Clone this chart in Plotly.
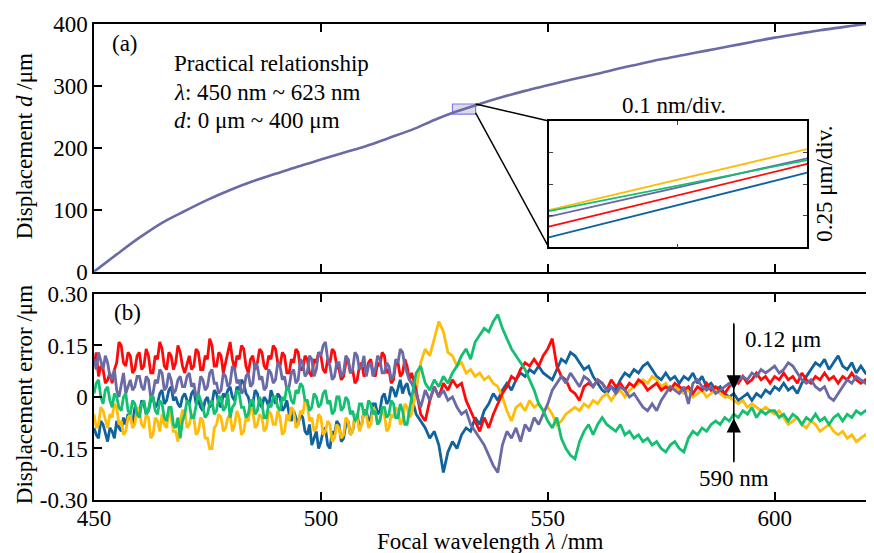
import plotly.graph_objects as go

# ---------------- data ----------------
# (a) practical relationship curve
curve_lambda = [450, 455, 460, 465, 470, 475, 480, 485, 490, 495, 500, 505, 510, 515,
                520, 525, 530, 535, 540, 545, 550, 555, 560, 565, 570, 575, 580, 585,
                590, 595, 600, 605, 610, 615, 620, 621.9]
curve_d = [0, 28, 55, 79, 98, 116, 132, 146, 158, 170, 181, 192, 203, 216,
           229, 245, 259, 271, 282, 292, 301, 310, 318, 327, 335, 343, 350, 357,
           364, 371, 378, 384, 390, 395, 400, 402]

# (b) displacement error: every 0.5 nm from 450 to 519.5 nm, then every 1 nm to 621 nm
err_lambda_fine = [450 + 0.5 * i for i in range(140)]
err_lambda_coarse = list(range(520, 622))
err_lambda = err_lambda_fine + err_lambda_coarse

err_blue = [
    # 450-459.5
    -0.09, -0.11, -0.12, -0.07, -0.08, -0.11, -0.13, -0.09, -0.10, -0.12,
    -0.07, -0.09, -0.10, -0.06, -0.08, -0.05, -0.06, -0.08, -0.03, -0.05,
    # 460-469.5
    -0.05, -0.01, -0.02, -0.05, -0.04, -0.01, 0.00, -0.03, -0.02, 0.01,
    0.02, -0.02, -0.01, 0.02, 0.03, -0.01, 0.00, -0.02, -0.03, 0.00,
    # 470-479.5
    0.01, -0.01, -0.02, 0.01, 0.02, -0.02, -0.01, -0.03, -0.04, -0.01,
    0.00, -0.03, -0.02, 0.02, 0.01, -0.02, -0.03, 0.01, 0.00, 0.02,
    # 480-489.5
    0.03, 0.00, -0.01, 0.03, 0.02, 0.05, 0.04, 0.01, 0.00, -0.03,
    -0.02, 0.02, 0.01, -0.02, -0.03, 0.00, -0.01, -0.03, 0.02, 0.00,
    # 490-499.5
    -0.02, 0.01, 0.00, -0.04, -0.03, -0.01, -0.05, -0.07, -0.04, -0.06,
    -0.08, -0.05, -0.06, -0.10, -0.11, -0.08, -0.14, -0.12, -0.10, -0.15,
    # 500-509.5
    -0.13, -0.10, -0.09, -0.14, -0.15, -0.10, -0.11, -0.07, -0.08, -0.13,
    -0.12, -0.08, -0.07, -0.11, -0.10, -0.06, -0.05, -0.09, -0.08, -0.04,
    # 510-519.5
    -0.04, -0.07, -0.06, -0.02, -0.02, -0.05, -0.04, 0.00, 0.01, -0.02,
    -0.01, 0.03, 0.02, 0.00, 0.03, 0.05, 0.01, 0.03, 0.04, 0.01,
    # 520-621 (1 nm)
    0.00, -0.05, -0.07, -0.09, -0.12, -0.10, -0.14, -0.22, -0.16, -0.13,
    -0.15, -0.11, -0.09, -0.10, -0.06, -0.08, -0.04, -0.02, 0.01, -0.01,
    0.02, 0.04, 0.02, 0.05, 0.07, 0.06, 0.08, 0.07, 0.09, 0.07,
    0.06, 0.05, 0.08, 0.11, 0.10, 0.13, 0.12, 0.10, 0.08, 0.09,
    0.06, 0.04, 0.02, 0.01, 0.03, 0.02, 0.05, 0.07, 0.06, 0.08,
    0.07, 0.09, 0.10, 0.08, 0.06, 0.05, 0.07, 0.05, 0.06, 0.04,
    0.06, 0.05, 0.07, 0.04, 0.06, 0.03, 0.04, 0.02, 0.03, 0.01,
    0.00, 0.01, -0.01, 0.00, 0.01, -0.01, 0.01, 0.00, 0.02, 0.01,
    0.03, 0.02, 0.04, 0.02, 0.03, 0.01, 0.04, 0.06, 0.08, 0.10,
    0.09, 0.11, 0.08, 0.10, 0.12, 0.09, 0.08, 0.10, 0.07, 0.09,
    0.07, 0.06]

err_yellow = [
    # 450-459.5
    -0.05, -0.09, -0.08, -0.03, -0.04, -0.07, -0.09, -0.05, -0.06, -0.02,
    -0.03, -0.08, -0.07, -0.11, -0.10, -0.06, -0.05, -0.09, -0.08, -0.03,
    # 460-469.5
    -0.04, -0.08, -0.09, -0.05, -0.06, -0.12, -0.11, -0.06, -0.07, -0.10,
    -0.05, -0.08, -0.09, -0.04, -0.06, -0.10, -0.10, -0.13, -0.07, -0.04,
    # 470-479.5
    -0.04, -0.09, -0.08, -0.05, -0.06, -0.11, -0.10, -0.06, -0.07, -0.12,
    -0.12, -0.15, -0.15, -0.09, -0.08, -0.05, -0.06, -0.10, -0.09, -0.06,
    # 480-489.5
    -0.05, -0.10, -0.08, -0.04, -0.06, -0.11, -0.10, -0.06, -0.07, -0.03,
    -0.04, -0.09, -0.08, -0.05, -0.06, -0.10, -0.09, -0.04, -0.05, -0.08,
    # 490-499.5
    -0.08, -0.04, -0.06, -0.11, -0.10, -0.05, -0.07, -0.03, -0.04, -0.09,
    -0.08, -0.04, -0.05, -0.01, -0.02, -0.07, -0.06, -0.10, -0.09, -0.05,
    # 500-509.5
    -0.06, -0.11, -0.10, -0.07, -0.08, -0.13, -0.12, -0.08, -0.09, -0.12,
    -0.11, -0.06, -0.07, -0.11, -0.10, -0.05, -0.06, -0.10, -0.08, -0.04,
    # 510-519.5
    -0.05, -0.09, -0.08, -0.03, -0.04, -0.08, -0.07, -0.04, -0.05, -0.10,
    -0.09, -0.05, -0.06, -0.03, -0.04, -0.08, -0.07, -0.02, -0.03, -0.06,
    # 520-621 (1 nm)
    -0.05, 0.02, 0.10, 0.14, 0.12, 0.17, 0.22, 0.19, 0.13, 0.12,
    0.09, 0.10, 0.07, 0.08, 0.06, 0.07, 0.05, 0.06, 0.04, 0.03,
    0.00, -0.04, -0.07, -0.03, -0.02, -0.04, -0.01, -0.03, -0.02, -0.04,
    -0.03, -0.05, -0.08, -0.07, -0.05, -0.04, -0.03, -0.04, -0.02, -0.03,
    -0.01, -0.02, 0.00, 0.01, -0.01, 0.01, 0.02, 0.00, 0.02, 0.03,
    0.04, 0.05, 0.04, 0.06, 0.05, 0.03, 0.04, 0.02, 0.03, 0.02,
    0.01, 0.02, 0.00, 0.01, 0.02, 0.00, 0.01, 0.02, 0.01, 0.00,
    0.00, -0.01, -0.02, -0.01, -0.03, -0.02, -0.03, -0.04, -0.03, -0.04,
    -0.05, -0.04, -0.06, -0.08, -0.07, -0.06, -0.08, -0.09, -0.07, -0.08,
    -0.10, -0.09, -0.08, -0.10, -0.11, -0.10, -0.12, -0.11, -0.13, -0.12,
    -0.11, -0.12]

err_red = [
    # 450-459.5
    0.09, 0.13, 0.06, 0.09, 0.08, 0.04, 0.05, 0.07, 0.04, 0.08,
    0.10, 0.16, 0.15, 0.10, 0.09, 0.13, 0.12, 0.07, 0.08, 0.12,
    # 460-469.5
    0.13, 0.08, 0.09, 0.14, 0.12, 0.07, 0.07, 0.12, 0.11, 0.16,
    0.14, 0.09, 0.08, 0.13, 0.12, 0.08, 0.10, 0.15, 0.13, 0.09,
    # 470-479.5
    0.07, 0.10, 0.12, 0.08, 0.09, 0.14, 0.13, 0.08, 0.08, 0.12,
    0.11, 0.17, 0.15, 0.09, 0.09, 0.13, 0.12, 0.07, 0.10, 0.14,
    # 480-489.5
    0.16, 0.11, 0.08, 0.12, 0.11, 0.15, 0.14, 0.09, 0.07, 0.11,
    0.12, 0.08, 0.10, 0.14, 0.13, 0.09, 0.08, 0.12, 0.11, 0.15,
    # 490-499.5
    0.14, 0.10, 0.09, 0.13, 0.12, 0.07, 0.07, 0.11, 0.10, 0.14,
    0.13, 0.08, 0.08, 0.12, 0.11, 0.07, 0.06, 0.11, 0.10, 0.13,
    # 500-509.5
    0.12, 0.08, 0.07, 0.11, 0.10, 0.14, 0.13, 0.09, 0.08, 0.05,
    0.06, 0.10, 0.11, 0.07, 0.08, 0.04, 0.05, 0.09, 0.10, 0.06,
    # 510-519.5
    0.07, 0.10, 0.11, 0.07, 0.06, 0.10, 0.09, 0.13, 0.12, 0.07,
    0.08, 0.04, 0.05, 0.10, 0.10, 0.06, 0.07, 0.11, 0.09, 0.05,
    # 520-621 (1 nm)
    0.07, 0.02, -0.05, -0.07, -0.01, 0.03, 0.00, 0.04, 0.02, 0.05,
    0.03, 0.04, -0.01, -0.04, -0.07, -0.10, -0.06, -0.09, -0.05, -0.02,
    0.01, 0.03, 0.06, 0.05, 0.08, 0.10, 0.09, 0.11, 0.09, 0.12,
    0.14, 0.17, 0.09, 0.06, 0.05, 0.02, 0.01, -0.01, 0.03, 0.04,
    0.03, 0.05, 0.04, 0.02, 0.05, 0.03, 0.04, 0.02, 0.04, 0.03,
    0.05, 0.04, 0.02, 0.03, 0.04, 0.02, 0.03, 0.02, 0.04, 0.03,
    0.02, 0.03, 0.01, 0.03, 0.02, 0.04, 0.02, 0.03, 0.02, 0.01,
    0.03, 0.05, 0.04, 0.06, 0.04, 0.05, 0.07, 0.05, 0.06, 0.04,
    0.06, 0.05, 0.07, 0.05, 0.06, 0.04, 0.07, 0.05, 0.04, 0.06,
    0.05, 0.07, 0.05, 0.06, 0.04, 0.06, 0.05, 0.07, 0.05, 0.04,
    0.05, 0.04]

err_purple = [
    # 450-459.5
    0.11, 0.08, 0.13, 0.10, 0.08, 0.12, 0.10, 0.06, 0.05, 0.08,
    0.02, 0.00, 0.04, 0.07, 0.01, 0.03, 0.05, 0.02, 0.03, 0.06,
    # 460-469.5
    0.06, 0.03, 0.02, 0.06, 0.05, 0.00, 0.01, 0.05, 0.04, 0.08,
    0.07, 0.02, 0.03, 0.07, 0.05, 0.01, 0.02, 0.05, 0.06, 0.03,
    # 470-479.5
    0.03, 0.06, 0.07, 0.03, 0.04, 0.00, 0.01, 0.06, 0.05, 0.02,
    0.03, 0.07, 0.08, 0.04, 0.04, 0.01, 0.02, 0.07, 0.06, 0.03,
    # 480-489.5
    0.04, 0.09, 0.08, 0.04, 0.05, 0.01, 0.02, 0.06, 0.07, 0.03,
    0.04, 0.10, 0.09, 0.05, 0.06, 0.02, 0.03, 0.08, 0.07, 0.04,
    # 490-499.5
    0.05, 0.10, 0.09, 0.05, 0.06, 0.02, 0.03, 0.07, 0.08, 0.04,
    0.05, 0.11, 0.10, 0.06, 0.07, 0.12, 0.11, 0.06, 0.08, 0.13,
    # 500-509.5
    0.12, 0.15, 0.16, 0.11, 0.09, 0.05, 0.06, 0.10, 0.10, 0.06,
    0.07, 0.12, 0.11, 0.07, 0.08, 0.13, 0.12, 0.08, 0.09, 0.12,
    # 510-519.5
    0.06, 0.09, 0.10, 0.06, 0.08, 0.12, 0.11, 0.07, 0.07, 0.10,
    0.09, 0.05, 0.06, 0.11, 0.10, 0.14, 0.13, 0.09, 0.07, 0.05,
    # 520-621 (1 nm)
    0.04, 0.01, -0.03, 0.02, -0.01, 0.03, 0.00, 0.02, -0.01, 0.00,
    -0.03, -0.05, -0.04, -0.08, -0.10, -0.12, -0.14, -0.17, -0.20, -0.22,
    -0.14, -0.10, -0.12, -0.09, -0.13, -0.08, -0.10, -0.06, -0.08, -0.05,
    -0.02, 0.02, 0.04, 0.06, 0.04, 0.07, 0.05, 0.03, 0.06, 0.05,
    0.03, 0.05, 0.04, 0.02, 0.03, 0.01, 0.03, 0.02, 0.00, 0.01,
    -0.01, -0.03, -0.04, -0.02, -0.04, -0.01, 0.01, 0.03, 0.02, 0.01,
    0.03, -0.02, 0.04, 0.05, 0.03, 0.02, 0.03, 0.01, 0.02, 0.03,
    0.04, 0.03, 0.05, 0.06, 0.05, 0.07, 0.06, 0.08, 0.07, 0.08,
    0.09, 0.07, 0.08, 0.10, 0.09, 0.07, 0.05, 0.04, 0.05, 0.03,
    0.02, 0.03, 0.00, -0.01, 0.01, 0.03, 0.05, 0.04, 0.06, 0.05,
    0.04, 0.05]

err_green = [
    # 450-459.5
    0.01, 0.04, 0.05, 0.00, -0.02, 0.02, 0.03, -0.01, -0.03, 0.01,
    0.00, -0.03, -0.04, 0.00, 0.01, -0.04, -0.05, -0.01, -0.02, -0.05,
    # 460-469.5
    -0.06, -0.02, -0.01, -0.05, -0.04, 0.00, 0.00, -0.04, -0.05, -0.01,
    -0.02, -0.06, -0.07, -0.03, -0.03, -0.08, -0.09, -0.06, -0.12, -0.07,
    # 470-479.5
    -0.05, -0.01, -0.02, -0.06, -0.06, -0.02, 0.01, -0.01, -0.03, -0.06,
    -0.05, -0.02, -0.01, -0.05, -0.04, 0.00, 0.00, -0.04, -0.03, 0.01,
    # 480-489.5
    -0.06, -0.03, -0.02, 0.02, 0.01, -0.03, -0.03, -0.06, -0.05, -0.01,
    -0.01, -0.05, -0.04, 0.00, -0.02, -0.06, -0.06, -0.02, -0.03, 0.00,
    # 490-499.5
    0.00, -0.03, -0.04, 0.00, -0.01, 0.03, 0.02, -0.01, -0.02, 0.02,
    0.01, 0.04, 0.03, -0.01, -0.01, -0.04, -0.03, 0.01, 0.00, -0.03,
    # 500-509.5
    -0.02, 0.01, 0.02, -0.02, -0.01, -0.05, -0.04, 0.00, 0.00, -0.04,
    -0.03, 0.00, -0.01, -0.05, -0.04, -0.07, -0.06, -0.02, -0.02, -0.05,
    # 510-519.5
    -0.05, -0.01, -0.02, -0.05, -0.04, -0.08, -0.07, -0.03, -0.03, -0.06,
    -0.05, -0.01, -0.02, -0.06, -0.06, -0.02, -0.04, -0.08, -0.08, -0.04,
    # 520-621 (1 nm)
    0.00, 0.07, 0.09, 0.04, 0.02, 0.05, 0.03, 0.06, 0.04, 0.07,
    0.09, 0.12, 0.14, 0.11, 0.16, 0.18, 0.20, 0.19, 0.22, 0.24,
    0.20, 0.17, 0.14, 0.12, 0.10, 0.08, 0.05, 0.02, -0.02, -0.04,
    -0.07, -0.09, -0.06, -0.12, -0.15, -0.17, -0.18, -0.13, -0.10, -0.08,
    -0.11, -0.08, -0.06, -0.08, -0.09, -0.10, -0.08, -0.11, -0.10, -0.12,
    -0.11, -0.13, -0.12, -0.14, -0.13, -0.15, -0.16, -0.14, -0.13, -0.15,
    -0.16, -0.12, -0.10, -0.11, -0.09, -0.10, -0.08, -0.07, -0.08, -0.06,
    -0.07, -0.05, -0.06, -0.04, -0.05, -0.03, -0.06, -0.04, -0.05, -0.04,
    -0.04, -0.06, -0.05, -0.07, -0.05, -0.06, -0.08, -0.06, -0.07, -0.05,
    -0.07, -0.06, -0.08, -0.06, -0.05, -0.07, -0.05, -0.06, -0.04, -0.05,
    -0.04, -0.05]

# inset (zoomed region): relative positions, 0.1 nm/div x 2 div, 0.25 um/div x 4 div
inset_x = [0.0, 0.2]
inset_yellow = [0.295, 0.778]
inset_green = [0.287, 0.691]
inset_purple = [0.242, 0.705]
inset_red = [0.163, 0.660]
inset_blue = [0.079, 0.591]

# annotation values
marker_lambda = 591.0
marker_top, marker_bottom = 0.215, -0.19
arrow_tip_upper, arrow_tip_lower = 0.022, -0.062
zoom_box_x = [529.0, 534.1]
zoom_box_y = [254.6, 270.8]

x_ticks = [450, 500, 550, 600]
y1_ticks = [0, 100, 200, 300, 400]
y2_ticks = [-0.30, -0.15, 0, 0.15, 0.30]
y2_ticktext = ["-0.30", "-0.15", "0", "0.15", "0.30"]

for s in (err_blue, err_yellow, err_red, err_purple, err_green):
    assert len(s) == len(err_lambda), len(s)

# ---------------- styling ----------------
FONT = "Liberation Serif, Times New Roman, serif"
FS = 23
C_BLUE = "#10639c"
C_RED = "#ff0a0a"
C_YELLOW = "#ffbc0a"
C_GREEN = "#14bf72"
C_PURPLE = "#6a6aa6"

X_RANGE = [450, 621.9]
Y1_RANGE = [0, 400]
Y2_RANGE = [-0.30, 0.30]
Y1_DOM = [0.4796, 1.0]
Y2_DOM = [0.0, 0.4328]
INSET_XDOM = [0.5831, 0.9143]
INSET_YDOM = [0.5309, 0.7962]

fig = go.Figure()

fig.add_trace(go.Scatter(x=curve_lambda, y=curve_d, mode="lines",
                         line=dict(color=C_PURPLE, width=2.6, shape="spline"),
                         xaxis="x", yaxis="y", showlegend=False))

for ys, c in ((err_blue, C_BLUE), (err_yellow, C_YELLOW), (err_red, C_RED),
              (err_purple, C_PURPLE), (err_green, C_GREEN)):
    fig.add_trace(go.Scatter(x=err_lambda, y=ys, mode="lines",
                             line=dict(color=c, width=2.8),
                             xaxis="x2", yaxis="y2", showlegend=False))

for ys, c in ((inset_yellow, C_YELLOW), (inset_blue, C_BLUE), (inset_red, C_RED),
              (inset_purple, C_PURPLE), (inset_green, C_GREEN)):
    fig.add_trace(go.Scatter(x=inset_x, y=ys, mode="lines",
                             line=dict(color=c, width=1.8),
                             xaxis="x3", yaxis="y3", showlegend=False))

axis_common = dict(showline=True, linecolor="black", linewidth=1.5, mirror="ticks",
                   ticks="inside", ticklen=8, tickwidth=1.5, tickcolor="black",
                   showgrid=False, zeroline=False,
                   tickfont=dict(family=FONT, size=FS, color="black"))

# the page adds an 8 px body margin; margins below compensate for it
fig.update_layout(
    width=868, height=545,
    margin=dict(l=86, r=0, t=16, b=53),
    paper_bgcolor="white", plot_bgcolor="white",
    font=dict(family=FONT, size=FS, color="black"),
    showlegend=False,
    xaxis=dict(axis_common, domain=[0, 1], range=X_RANGE, anchor="y",
               tickvals=x_ticks, showticklabels=False),
    yaxis=dict(axis_common, domain=Y1_DOM, range=Y1_RANGE, anchor="x",
               tickvals=y1_ticks),
    xaxis2=dict(axis_common, domain=[0, 1], range=X_RANGE, anchor="y2",
                tickvals=x_ticks, ticklabelstandoff=-3),
    yaxis2=dict(axis_common, domain=Y2_DOM, range=Y2_RANGE, anchor="x2",
                tickvals=y2_ticks, ticktext=y2_ticktext),
    xaxis3=dict(domain=INSET_XDOM, range=[0, 0.2], anchor="y3", showline=True,
                linecolor="black", linewidth=1.5, mirror="ticks", ticks="inside",
                ticklen=4, tickwidth=1.2, tickvals=[0.1], showticklabels=False,
                showgrid=False, zeroline=False),
    yaxis3=dict(domain=INSET_YDOM, range=[0, 1], anchor="x3", showline=True,
                linecolor="black", linewidth=1.5, mirror="ticks", ticks="inside",
                ticklen=4, tickwidth=1.2, tickvals=[0.25, 0.5, 0.75],
                showticklabels=False, showgrid=False, zeroline=False),
)

# helpers: convert paper coordinates to top-panel data coordinates
def paper_to_x1(p):
    return X_RANGE[0] + p * (X_RANGE[1] - X_RANGE[0])

def paper_to_y1(p):
    return Y1_RANGE[0] + (p - Y1_DOM[0]) / (Y1_DOM[1] - Y1_DOM[0]) * (Y1_RANGE[1] - Y1_RANGE[0])

inset_left = paper_to_x1(INSET_XDOM[0])
inset_top = paper_to_y1(INSET_YDOM[1])
inset_bottom = paper_to_y1(INSET_YDOM[0])

# zoom box and connectors
fig.add_shape(type="rect", xref="x", yref="y",
              x0=zoom_box_x[0], x1=zoom_box_x[1], y0=zoom_box_y[0], y1=zoom_box_y[1],
              line=dict(color="#7b7bf0", width=1.2), fillcolor="rgba(190,190,205,0.55)",
              layer="below")
fig.add_shape(type="line", xref="x", yref="y",
              x0=zoom_box_x[1], y0=zoom_box_y[1], x1=inset_left, y1=inset_top,
              line=dict(color="black", width=1.5))
fig.add_shape(type="line", xref="x", yref="y",
              x0=zoom_box_x[1], y0=zoom_box_y[0] + 2, x1=inset_left, y1=inset_bottom,
              line=dict(color="black", width=1.5))
# white background for the inset
fig.add_shape(type="rect", xref="paper", yref="paper",
              x0=INSET_XDOM[0], x1=INSET_XDOM[1], y0=INSET_YDOM[0], y1=INSET_YDOM[1],
              line=dict(width=0), fillcolor="white", layer="below")

# vertical marker line in (b)
fig.add_shape(type="line", xref="x2", yref="y2",
              x0=marker_lambda, x1=marker_lambda, y0=marker_bottom, y1=marker_top,
              line=dict(color="black", width=1.5))

def txt(text, x, y, xref="paper", yref="paper", xanchor="left", angle=0, size=FS):
    fig.add_annotation(text=text, x=x, y=y, xref=xref, yref=yref, xanchor=xanchor,
                       yanchor="middle", showarrow=False, textangle=angle,
                       font=dict(family=FONT, size=size, color="black"))

txt("(a)", 0.0205, 0.960)
txt("(b)", 0.0230, 0.3929)
txt("Practical relationship", 0.0997, 0.918)
txt("<i>λ</i>: 450 nm ~ 623 nm", 0.0997, 0.857)
txt("<i>d</i>: 0 μm ~ 400 μm", 0.0997, 0.798)
txt("0.1 nm/div.", 0.743, 0.8298, xanchor="center")
txt("0.25 μm/div.", 0.937, 0.6639, xanchor="center", angle=-90)
txt("Displacement <i>d</i> /μm", -0.0882, 0.7437, xanchor="center", angle=-90)
txt("Displacement error /μm", -0.0882, 0.2206, xanchor="center", angle=-90)
txt("Focal wavelength <i>λ</i> /mm", 0.5077, -0.0870, xanchor="center")
txt("0.12 μm", 593.0, 0.166, xref="x2", yref="y2")
txt("590 nm", marker_lambda, -0.236, xref="x2", yref="y2", xanchor="center")

for tip, tail in ((arrow_tip_upper, marker_top), (arrow_tip_lower, marker_bottom)):
    fig.add_annotation(x=marker_lambda, y=tip, ax=marker_lambda, ay=tail,
                       xref="x2", yref="y2", axref="x2", ayref="y2",
                       text="", showarrow=True, arrowhead=2, arrowsize=2.2,
                       arrowwidth=1.3, arrowcolor="black")

fig.write_html("out.html")
